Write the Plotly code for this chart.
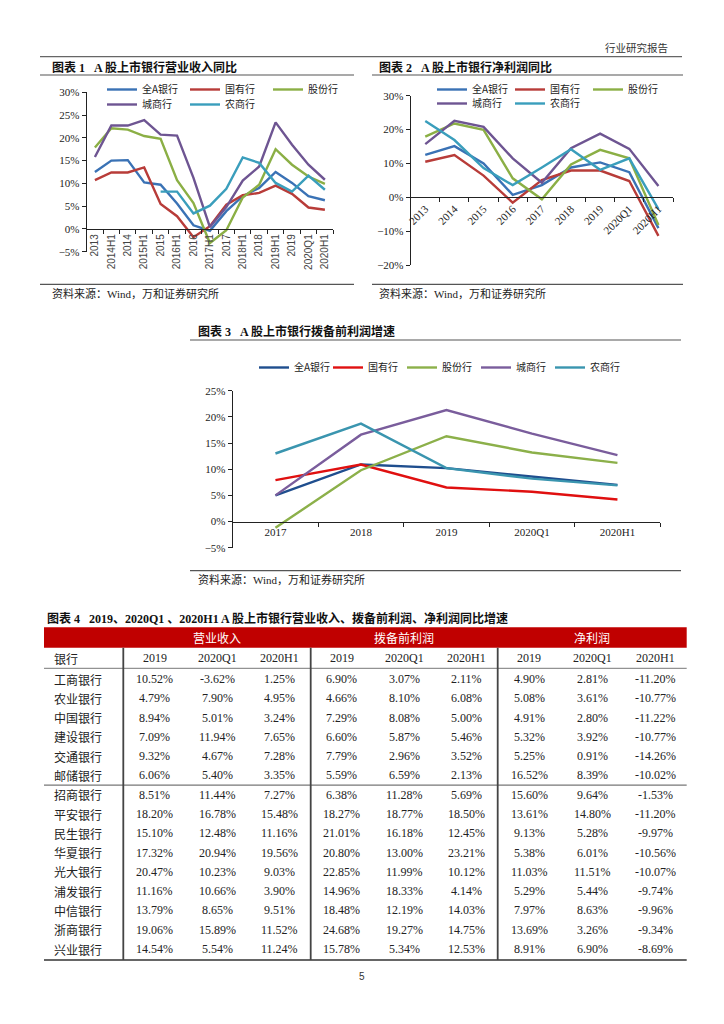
import plotly.graph_objects as go

# the page body has an 8px default margin; the figure is sized to fit inside
OFF = 8
W, H = 724 - OFF, 1024 - OFF
def fx(px): return (px - OFF) / W
def fy(py): return 1 - (py - OFF) / H

SERIF = "Liberation Serif, Noto Sans CJK SC"
CJK = "Noto Sans CJK SC"

SERIES = ["全A银行", "国有行", "股份行", "城商行", "农商行"]

# ---------- Chart 1 data ----------
c1_cats = ["2013", "2014H1", "2014", "2015H1", "2015", "2016H1", "2016", "2017H1",
           "2017", "2018H1", "2018", "2019H1", "2019", "2020Q1", "2020H1"]
c1_all = [12.5, 15.0, 15.1, 10.2, 9.7, 5.6, 0.8, -0.4, 3.9, 7.2, 9.0, 12.5, 10.1, 7.2, 6.3]
c1_soe = [10.7, 12.4, 12.4, 13.5, 5.5, 2.8, -1.8, 0.6, 5.3, 7.4, 7.9, 9.5, 7.7, 4.7, 4.2]
c1_jsb = [17.9, 22.1, 21.8, 20.4, 19.8, 10.7, 5.7, -3.1, -0.3, 6.9, 9.7, 17.5, 14.1, 11.5, 9.9]
c1_city = [15.8, 22.7, 22.7, 23.9, 20.7, 20.5, 11.2, 0.4, 4.8, 10.6, 13.7, 23.4, 18.5, 14.1, 10.8]
c1_rural = [None, None, None, None, 8.2, 8.2, 3.4, 5.1, 8.8, 15.7, 14.5, 10.1, 8.2, 11.7, 8.6]

# ---------- Chart 2 data ----------
c2_cats = ["2013", "2014", "2015", "2016", "2017", "2018", "2019", "2020Q1", "2020H1"]
c2_all = [12.5, 15.1, 10.0, 0.7, 3.6, 8.8, 10.3, 7.4, -9.1]
c2_soe = [10.5, 12.5, 6.4, -1.6, 5.1, 7.9, 7.9, 4.8, -11.4]
c2_jsb = [17.9, 21.8, 19.9, 5.6, -0.6, 9.7, 14.0, 11.5, -8.2]
c2_city = [15.7, 22.6, 20.8, 11.5, 4.3, 14.5, 18.8, 14.3, 3.3]
c2_rural = [22.5, 16.9, 8.6, 3.6, 8.8, 14.2, 8.1, 11.5, -3.5]

# ---------- Chart 3 data ----------
c3_cats = ["2017", "2018", "2019", "2020Q1", "2020H1"]
c3_all = [5.0, 10.9, 10.2, 8.6, 7.0]
c3_soe = [7.9, 10.9, 6.5, 5.7, 4.2]
c3_jsb = [-1.2, 9.8, 16.3, 13.2, 11.2]
c3_city = [5.0, 16.6, 21.3, 16.8, 12.7]
c3_rural = [13.0, 18.7, 10.2, 8.2, 6.9]

# ---------- Table data ----------
banks = ["工商银行", "农业银行", "中国银行", "建设银行", "交通银行", "邮储银行",
         "招商银行", "平安银行", "民生银行", "华夏银行", "光大银行", "浦发银行",
         "中信银行", "浙商银行", "兴业银行"]
rev_2019 = [10.52, 4.79, 8.94, 7.09, 9.32, 6.06, 8.51, 18.20, 15.10, 17.32, 20.47, 11.16, 13.79, 19.06, 14.54]
rev_q1 = [-3.62, 7.90, 5.01, 11.94, 4.67, 5.40, 11.44, 16.78, 12.48, 20.94, 10.23, 10.66, 8.65, 15.89, 5.54]
rev_h1 = [1.25, 4.95, 3.24, 7.65, 7.28, 3.35, 7.27, 15.48, 11.16, 19.56, 9.03, 3.90, 9.51, 11.52, 11.24]
ppop_2019 = [6.90, 4.66, 7.29, 6.60, 7.79, 5.59, 6.38, 18.27, 21.01, 20.80, 22.85, 14.96, 18.48, 24.68, 15.78]
ppop_q1 = [3.07, 8.10, 8.08, 5.87, 2.96, 6.59, 11.28, 18.77, 16.18, 13.00, 11.99, 18.33, 12.19, 19.27, 5.34]
ppop_h1 = [2.11, 6.08, 5.00, 5.46, 3.52, 2.13, 5.69, 18.50, 12.45, 23.21, 10.12, 4.14, 14.03, 14.75, 12.53]
np_2019 = [4.90, 5.08, 4.91, 5.32, 5.25, 16.52, 15.60, 13.61, 9.13, 5.38, 11.03, 5.29, 7.97, 13.69, 8.91]
np_q1 = [2.81, 3.61, 2.80, 3.92, 0.91, 8.39, 9.64, 14.80, 5.28, 6.01, 11.51, 5.44, 8.63, 3.26, 6.90]
np_h1 = [-11.20, -10.77, -11.22, -10.77, -14.26, -10.02, -1.53, -11.20, -9.97, -10.56, -10.07, -9.74, -9.96, -9.34, -8.69]
table_groups = ["营业收入", "拨备前利润", "净利润"]
table_periods = ["2019", "2020Q1", "2020H1"]

COLORS12 = ["#3A72B5", "#B83C39", "#8BAF45", "#6E5592", "#3A9EBC"]
COLORS3 = ["#1F4E8E", "#E01010", "#8CB04A", "#7A5D9C", "#3A95AF"]

fig = go.Figure()

def add_chart(cats, series, colors, xa, ya, legends, width=2.4):
    for i, (name, vals) in enumerate(zip(SERIES, series)):
        fig.add_trace(go.Scatter(
            x=cats, y=vals, name=name, mode="lines",
            line=dict(color=colors[i], width=width),
            xaxis=xa, yaxis=ya, legend=legends[i], connectgaps=False,
            hoverinfo="skip"))

add_chart(c1_cats, [c1_all, c1_soe, c1_jsb, c1_city, c1_rural], COLORS12, "x", "y",
          ["legend", "legend", "legend", "legend2", "legend2"])
add_chart(c2_cats, [c2_all, c2_soe, c2_jsb, c2_city, c2_rural], COLORS12, "x2", "y2",
          ["legend3", "legend3", "legend3", "legend4", "legend4"])
add_chart(c3_cats, [c3_all, c3_soe, c3_jsb, c3_city, c3_rural], COLORS3, "x3", "y3",
          ["legend5"] * 5, width=2.4)

def ydom(top, bot): return [fy(bot), fy(top)]

def yaxis_cfg(rng, dtick, top, bot, anchor):
    return dict(range=rng, dtick=dtick, domain=ydom(top, bot), anchor=anchor,
                showgrid=False, zeroline=False, showline=True, linecolor="#222",
                linewidth=1, ticks="outside", ticklen=4, tickcolor="#222",
                ticksuffix="%", tickfont=dict(family=SERIF, size=11, color="#222"),
                automargin=False, fixedrange=True)

def xaxis_cfg(left, right, zero_py, angle, font, ncat):
    return dict(domain=[fx(left), fx(right)], anchor="free", position=fy(zero_py),
                type="category", range=[-0.5, ncat - 0.5],
                showgrid=False, zeroline=False, showline=True,
                linecolor="#222", linewidth=1, ticks="outside", ticklen=4,
                tickcolor="#222", tickson="boundaries", tickangle=angle,
                tickfont=font, automargin=False, fixedrange=True)

def legend_cfg(px, py, ew, size=10):
    return dict(orientation="h", x=fx(px), y=fy(py), xanchor="left", yanchor="top",
                bgcolor="rgba(0,0,0,0)", entrywidth=ew, entrywidthmode="pixels",
                itemwidth=30, traceorder="normal",
                font=dict(family=CJK, size=size, color="#222"))

fig.update_layout(
    width=W, height=H, margin=dict(l=0, r=0, t=0, b=0),
    paper_bgcolor="white", plot_bgcolor="rgba(0,0,0,0)",
    xaxis=xaxis_cfg(86.7, 333.1, 229.3, -90,
                    dict(family="Liberation Sans", size=10, color="#444"), len(c1_cats)),
    yaxis=yaxis_cfg([-5, 30], 5, 92.3, 251.7, "x"),
    xaxis2=xaxis_cfg(410.7, 673, 197.3, -45,
                     dict(family=SERIF, size=11, color="#222"), len(c2_cats)),
    yaxis2=yaxis_cfg([-20, 30], 10, 95.7, 265, "x2"),
    xaxis3=xaxis_cfg(232.7, 660.2, 521.5, 0,
                     dict(family=SERIF, size=11, color="#222"), len(c3_cats)),
    yaxis3=yaxis_cfg([-5, 25], 5, 390.7, 547.7, "x3"),
    legend=legend_cfg(102, 75, 38),
    legend2=legend_cfg(102, 90, 38),
    legend3=legend_cfg(432, 75, 33),
    legend4=legend_cfg(432, 89, 33),
    legend5=legend_cfg(254, 353, 29),
    showlegend=True,
)

shapes = []
annots = []

def hline(x0, x1, y, color="#555", width=1.2):
    shapes.append(dict(type="line", xref="paper", yref="paper", x0=fx(x0), x1=fx(x1),
                       y0=fy(y), y1=fy(y), line=dict(color=color, width=width)))

def vline(x, y0, y1, color="#444", width=1.8):
    shapes.append(dict(type="line", xref="paper", yref="paper", x0=fx(x), x1=fx(x),
                       y0=fy(y0), y1=fy(y1), line=dict(color=color, width=width)))

def text(px, py, s, size=11, family=CJK, color="#222", xanchor="left"):
    annots.append(dict(xref="paper", yref="paper", x=fx(px), y=fy(py), text=s,
                       showarrow=False, xanchor=xanchor, yanchor="middle",
                       font=dict(family=family, size=size, color=color)))

# page header
text(670, 47, "行业研究报告", size=10.5, color="#333", xanchor="right")
hline(40, 682, 56.7, "#666", 1.2)

# chart titles and frame lines
text(50, 67, "<b>图表 1   A 股上市银行营业收入同比</b>", size=12, family=SERIF, color="#111")
text(377, 67, "<b>图表 2   A 股上市银行净利润同比</b>", size=12, family=SERIF, color="#111")
hline(40, 354, 75, "#555", 1.2)
hline(372, 683, 75, "#555", 1.2)
hline(40, 354, 284.3, "#555", 1.2)
hline(372, 683, 284.3, "#555", 1.2)
text(50, 294, "资料来源：Wind，万和证券研究所", size=11, family=SERIF, color="#222")
text(377, 294, "资料来源：Wind，万和证券研究所", size=11, family=SERIF, color="#222")

text(196, 331, "<b>图表 3   A 股上市银行拨备前利润增速</b>", size=12, family=SERIF, color="#111")
hline(190, 681, 340, "#555", 1.2)
hline(190, 681, 570.7, "#555", 1.2)
text(196, 579.5, "资料来源：Wind，万和证券研究所", size=11, family=SERIF, color="#222")

# ---------- Table ----------
text(45, 618, "<b>图表 4   2019、2020Q1 、2020H1 A 股上市银行营业收入、拨备前利润、净利润同比增速</b>",
     size=12, family=SERIF, color="#111")
tab_left, tab_right = 44, 686.7
red_top, red_bot = 627.3, 647.7
hdr_bot = 668.3
row0, row_step = 679.0, 19.29
group_edges = [123.3, 310.7, 497.7, 686.7]
shapes.append(dict(type="rect", xref="paper", yref="paper", x0=fx(tab_left), x1=fx(tab_right),
                   y0=fy(red_bot), y1=fy(red_top), fillcolor="#C00000", line=dict(width=0)))
for g, name in enumerate(table_groups):
    cx = (group_edges[g] + group_edges[g + 1]) / 2
    text(cx, 637.5, name, size=12, family=CJK, color="#FFFFFF", xanchor="center")

table_bot = row0 + (len(banks) - 1) * row_step + 11
hline(tab_left, tab_right, hdr_bot, "#777", 1.0)
hline(tab_left, tab_right, row0 + 5.5 * row_step, "#555", 1.0)
hline(tab_left, tab_right, table_bot, "#333", 1.6)
for x in group_edges[:3]:
    vline(x, red_bot, table_bot)

text(52, 658.3, "银行", size=12, family=CJK, color="#222")
cols = [rev_2019, rev_q1, rev_h1, ppop_2019, ppop_q1, ppop_h1, np_2019, np_q1, np_h1]
col_centers = []
for g in range(3):
    w = (group_edges[g + 1] - group_edges[g]) / 3
    for k in range(3):
        col_centers.append(group_edges[g] + w * (k + 0.5))
for j, cx in enumerate(col_centers):
    text(cx, 658.3, table_periods[j % 3], size=12, family=SERIF, color="#222", xanchor="center")
for i, b in enumerate(banks):
    ry = row0 + i * row_step
    text(52, ry, b, size=12, family=CJK, color="#222")
    for j, cx in enumerate(col_centers):
        text(cx, ry, f"{cols[j][i]:.2f}%", size=12, family=SERIF, color="#222", xanchor="center")

# page number
text(362, 976, "5", size=10, family="Liberation Sans", color="#333", xanchor="center")

fig.update_layout(shapes=shapes, annotations=annots)
fig.write_html("out.html")
